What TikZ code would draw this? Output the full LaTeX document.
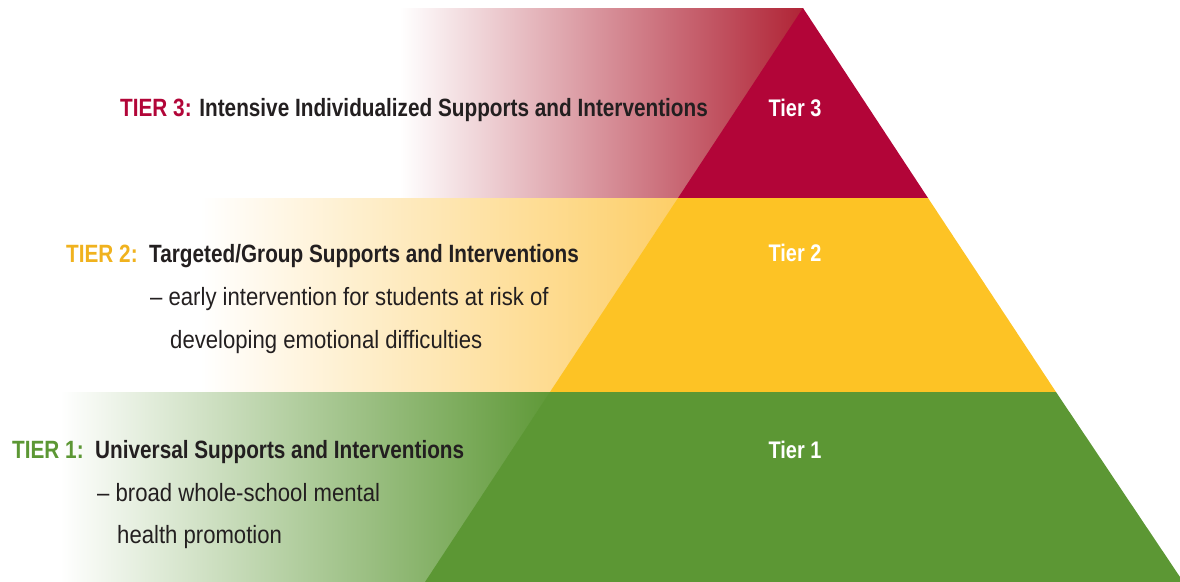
\documentclass[tikz,border=0pt]{standalone}
\usepackage{fontspec}
\setmainfont{Liberation Sans}[FakeStretch=0.83]
\newfontfamily\bodyfont{Liberation Sans}[FakeStretch=0.885]
\usepackage{tikz}
\definecolor{tierred}{RGB}{178,5,56}
\definecolor{tieryellow}{RGB}{253,195,37}
\definecolor{tiergreen}{RGB}{92,151,52}
\definecolor{tierink}{RGB}{35,31,32}
\definecolor{tiergold}{RGB}{240,178,30}

\begin{document}
\begin{tikzpicture}[x=1pt,y=-1pt,
	head/.style={anchor=base west,inner sep=0pt,font=\fontsize{25}{25}\selectfont\bfseries,text=tierink},
	body/.style={anchor=base west,inner sep=0pt,font=\bodyfont\fontsize{25}{25}\selectfont,text=tierink},
	level/.style={anchor=base,inner sep=0pt,font=\fontsize{24}{24}\selectfont\bfseries,text=white}]
	\useasboundingbox (0,0) rectangle (1180,581);
	\fill[left color=white,middle color={rgb,255:red,226;green,168;blue,163},right color={rgb,255:red,176;green,36;blue,54}] (400,8) rectangle (803,198);
	\fill[left color=white,right color={rgb,255:red,253;green,205;blue,100}] (200,198) rectangle (690,392);
	\fill[left color=white,right color=tiergreen] (60,392) rectangle (560,582);
	\coordinate (apex) at (803,8);
	\fill[tierred] (apex) -- (928,198) -- (678,198) -- cycle;
	\fill[tieryellow] (678,198) -- (928,198) -- (1056,392) -- (550,392) -- cycle;
	\fill[tiergreen] (550,392) -- (1056,392) -- (1180,577) -- (1180,582) -- (425,582) -- cycle;
	\node[level] (t3) at (795,116) {Tier 3};
	\node[level] (t2) at (795,261) {Tier 2};
	\node[level] (t1) at (795,458) {Tier 1};
	\node[head] (h3) at (120,116) {\textcolor{tierred}{TIER 3:} Intensive Individualized Supports and Interventions};
	\node[head] (h2) at (66,262) {\textcolor{tiergold}{TIER 2:}\ \ Targeted/Group Supports and Interventions};
	\node[body] (b2a) at (150,305) {– early intervention for students at risk of};
	\node[body] (b2b) at (170,348) {developing emotional difficulties};
	\node[head] (h1) at (12,458) {\textcolor{tiergreen}{TIER 1:}\ \ Universal Supports and Interventions};
	\node[body] (b1a) at (97,501) {– broad whole-school mental};
	\node[body] (b1b) at (117,543) {health promotion};
\end{tikzpicture}
\end{document}
